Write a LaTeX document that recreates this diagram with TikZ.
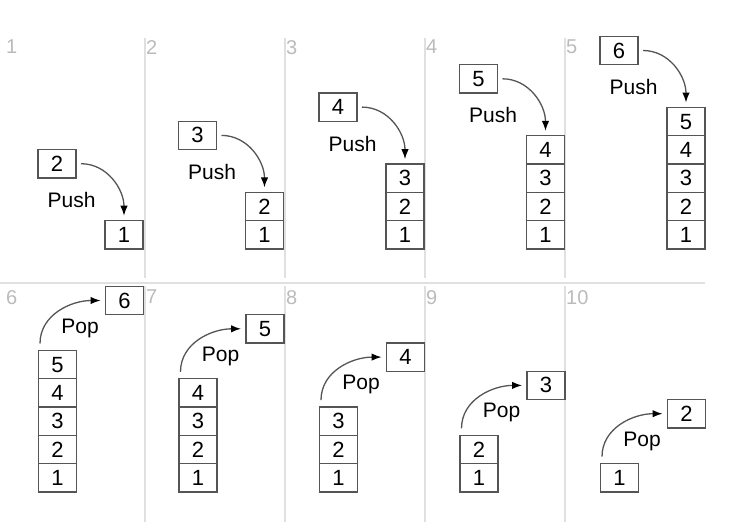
\documentclass[tikz,border=0pt]{standalone}
\usepackage{fontspec}
\setmainfont{Liberation Sans}
\usetikzlibrary{positioning,arrows.meta}
\definecolor{sepgray}{HTML}{E0E0E0}
\definecolor{numgray}{HTML}{BBBBBB}
\definecolor{boxgray}{HTML}{555555}
\begin{document}
\begin{tikzpicture}[x=1pt,y=1pt,
    cellnode/.style={rectangle, draw=boxgray, fill=white, line width=1.3pt, minimum width=38pt, minimum height=28.3pt, inner sep=0pt, outer sep=0pt, font=\fontsize{22}{22}\selectfont},
    stepnum/.style={anchor=north west, inner sep=0pt, text=numgray, font=\fontsize{20}{20}\selectfont},
    oplabel/.style={inner sep=0pt, font=\fontsize{21}{21}\selectfont},
    oparrow/.style={-{Latex[length=10pt,width=7.5pt,color=black]}, draw=boxgray, line width=1.3pt},
    sepline/.style={draw=sepgray, line width=2pt},
]
    \useasboundingbox (0,0) rectangle (756,-522);
    %Separators
    \foreach \x in {145,285,425,565} {
        \draw[sepline] (\x,-38) -- (\x,-278);
        \draw[sepline] (\x,-286) -- (\x,-522);
    }
    \draw[sepline] (0,-283) -- (705,-283);

    %Push steps
    \foreach \i in {1,...,5} {
        \pgfmathsetmacro{\cx}{124+140.5*(\i-1)}
        \pgfmathtruncatemacro{\nv}{\i+1}
        \node[stepnum] (num\i) at ({6+140*(\i-1)},-40) {\i};
        \foreach \v in {1,...,\i} {
            \node[cellnode] (p\i-\v) at (\cx,{-249+28.3*(\v-0.5)}) {\v};
        }
        \node[cellnode] (in\i) at (\cx-67,{-249+28.3*\i+57}) {\nv};
        \node[oplabel] (push\i) at (\cx-52.5,{-249+28.3*\i+20.5}) {Push};
        \draw[oparrow] ([xshift=5pt]in\i.east) to[out=0,in=90] ([yshift=5pt]p\i-\i.north);
    }

    %Pop steps
    \foreach \j in {1,...,5} {
        \pgfmathsetmacro{\cx}{57.5+140.5*(\j-1)}
        \pgfmathtruncatemacro{\n}{6-\j}
        \pgfmathtruncatemacro{\stepno}{5+\j}
        \pgfmathtruncatemacro{\outv}{7-\j}
        \node[stepnum] (num\stepno) at ({6+140*(\j-1)},-290) {\stepno};
        \foreach \v in {1,...,\n} {
            \node[cellnode] (q\j-\v) at (\cx,{-492+28.3*(\v-0.5)}) {\v};
        }
        \node[cellnode] (out\j) at (\cx+67,{-492+28.3*\n+50}) {\outv};
        \node[oplabel] (pop\j) at (\cx+22.5,{-492+28.3*\n+22.5}) {Pop};
        \draw[oparrow] ([shift={(-17.5pt,7pt)}]q\j-\n.north) to[out=90,in=180] ([xshift=-5pt]out\j.west);
    }
\end{tikzpicture}
\end{document}
